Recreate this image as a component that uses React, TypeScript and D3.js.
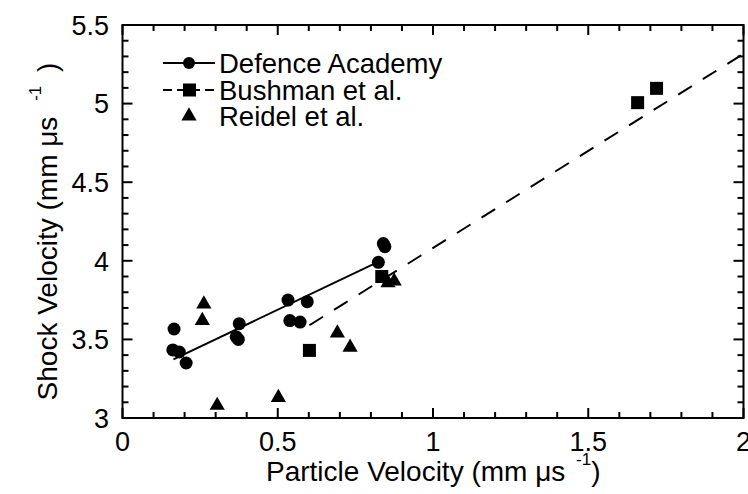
import React from 'react';
import * as d3 from 'd3';

// Defence Academy (circles)
const defenceUp = [0.166, 0.162, 0.183, 0.205, 0.376, 0.366, 0.373, 0.533, 0.539, 0.572, 0.595, 0.824, 0.840, 0.845];
const defenceUs = [3.566, 3.433, 3.42, 3.35, 3.60, 3.517, 3.50, 3.75, 3.62, 3.61, 3.74, 3.99, 4.11, 4.09];
// Bushman et al. (squares)
const bushmanUp = [0.602, 0.835, 1.659, 1.72];
const bushmanUs = [3.43, 3.90, 5.006, 5.097];
// Reidel et al. (triangles)
const reidelUp = [0.262, 0.257, 0.305, 0.502, 0.692, 0.733, 0.855, 0.875];
const reidelUs = [3.725, 3.62, 3.08, 3.13, 3.54, 3.45, 3.86, 3.87];
// Linear fits (end points)
const defenceFitUp = [0.164, 0.82];
const defenceFitUs = [3.373, 3.99];
const bushmanFitUp = [0.602, 2.0];
const bushmanFitUs = [3.59, 5.317];

const xTicks = [0, 0.5, 1, 1.5, 2];
const xTickLabels = ['0', '0.5', '1', '1.5', '2'];
const yTicks = [3, 3.5, 4, 4.5, 5, 5.5];
const yTickLabels = ['3', '3.5', '4', '4.5', '5', '5.5'];
const legendLabels = ['Defence Academy', 'Bushman et al.', 'Reidel et al.'];

const FONT = '"Liberation Sans", Arial, Helvetica, sans-serif';

export default function App() {
  const W = 748, H = 494;
  const x = d3.scaleLinear().domain([0, 2]).range([122.5, 743.5]);
  const y = d3.scaleLinear().domain([3, 5.5]).range([418, 25]);
  const [x0, x1] = x.range();
  const [y0, y1] = y.range();

  const xMinor = d3.range(0, 21).map(i => i / 10).filter(v => !xTicks.some(t => Math.abs(t - v) < 1e-6));
  const yMinor = d3.range(30, 56).map(i => i / 10).filter(v => !yTicks.some(t => Math.abs(t - v) < 1e-6));

  const line = d3.line<[number, number]>().x(d => x(d[0])).y(d => y(d[1]));
  const defFit = line(defenceFitUp.map((u, i) => [u, defenceFitUs[i]]) as [number, number][]) || '';
  const bushFit = line(bushmanFitUp.map((u, i) => [u, bushmanFitUs[i]]) as [number, number][]) || '';
  const tri = d3.symbol().type(d3.symbolTriangle).size(100)() || '';

  const MAJ = 10, MIN = 6;
  const sw = 2;

  const legendY = [63, 90, 116];

  return (
    <svg width={W} height={H} style={{ position: 'absolute', left: 0, top: 0, display: 'block', background: '#fff' }}
      fontFamily={FONT}>
      <rect x={0} y={0} width={W} height={H} fill="#fff" />
      {/* fits */}
      <path d={defFit} fill="none" stroke="#000" strokeWidth={2} />
      <path d={bushFit} fill="none" stroke="#000" strokeWidth={2} strokeDasharray="16,13" />
      {/* points */}
      {defenceUp.map((u, i) => (
        <circle key={'c' + i} cx={x(u)} cy={y(defenceUs[i])} r={6.5} fill="#000" />
      ))}
      {bushmanUp.map((u, i) => (
        <rect key={'s' + i} x={x(u) - 6.5} y={y(bushmanUs[i]) - 6.5} width={13} height={13} fill="#000" />
      ))}
      {reidelUp.map((u, i) => (
        <path key={'t' + i} d={tri} transform={`translate(${x(u)},${y(reidelUs[i])})`} fill="#000" />
      ))}
      {/* frame */}
      <rect x={x0} y={y1} width={x1 - x0} height={y0 - y1} fill="none" stroke="#000" strokeWidth={sw} />
      {/* x ticks */}
      {xTicks.map(t => (
        <g key={'xt' + t}>
          <line x1={x(t)} x2={x(t)} y1={y0} y2={y0 - MAJ} stroke="#000" strokeWidth={sw} />
          <line x1={x(t)} x2={x(t)} y1={y1} y2={y1 + MAJ} stroke="#000" strokeWidth={sw} />
        </g>
      ))}
      {xMinor.map(t => (
        <g key={'xm' + t}>
          <line x1={x(t)} x2={x(t)} y1={y0} y2={y0 - MIN} stroke="#000" strokeWidth={sw} />
          <line x1={x(t)} x2={x(t)} y1={y1} y2={y1 + MIN} stroke="#000" strokeWidth={sw} />
        </g>
      ))}
      {yTicks.map(t => (
        <g key={'yt' + t}>
          <line x1={x0} x2={x0 + MAJ} y1={y(t)} y2={y(t)} stroke="#000" strokeWidth={sw} />
          <line x1={x1} x2={x1 - MAJ} y1={y(t)} y2={y(t)} stroke="#000" strokeWidth={sw} />
        </g>
      ))}
      {yMinor.map(t => (
        <g key={'ym' + t}>
          <line x1={x0} x2={x0 + MIN} y1={y(t)} y2={y(t)} stroke="#000" strokeWidth={sw} />
          <line x1={x1} x2={x1 - MIN} y1={y(t)} y2={y(t)} stroke="#000" strokeWidth={sw} />
        </g>
      ))}
      {/* tick labels */}
      {xTicks.map((t, i) => (
        <text key={'xl' + t} x={x(t)} y={451} textAnchor="middle" fontSize={27} fill="#000">{xTickLabels[i]}</text>
      ))}
      {yTicks.map((t, i) => (
        <text key={'yl' + t} x={109} y={y(t)} dy="0.36em" textAnchor="end" fontSize={27} fill="#000">{yTickLabels[i]}</text>
      ))}
      {/* axis titles */}
      <text x={266} y={481} fontSize={28} fill="#000">
        Particle Velocity (mm μs <tspan fontSize={17} dy={-16} dx={3}>-1</tspan><tspan dy={16}>)</tspan>
      </text>
      <text transform={`translate(57,${(y0 + y1) / 2 + 10}) rotate(-90)`} textAnchor="middle" fontSize={28} fill="#000">
        Shock Velocity (mm μs <tspan fontSize={17} dy={-16} dx={8}>-1</tspan><tspan dy={16} dx={6}> )</tspan>
      </text>
      {/* legend */}
      <g>
        <line x1={163} x2={215} y1={legendY[0]} y2={legendY[0]} stroke="#000" strokeWidth={2} />
        <circle cx={189} cy={legendY[0]} r={6} fill="#000" />
        <line x1={163} x2={215} y1={legendY[1]} y2={legendY[1]} stroke="#000" strokeWidth={2} strokeDasharray="9,5" />
        <rect x={183} y={legendY[1] - 6.5} width={13} height={13} fill="#000" />
        <path d={tri} transform={`translate(189,${legendY[2]})`} fill="#000" />
        {legendLabels.map((l, i) => (
          <text key={'lg' + i} x={219} y={legendY[i]} dy="0.36em" fontSize={27.5} fill="#000">{l}</text>
        ))}
      </g>
    </svg>
  );
}
